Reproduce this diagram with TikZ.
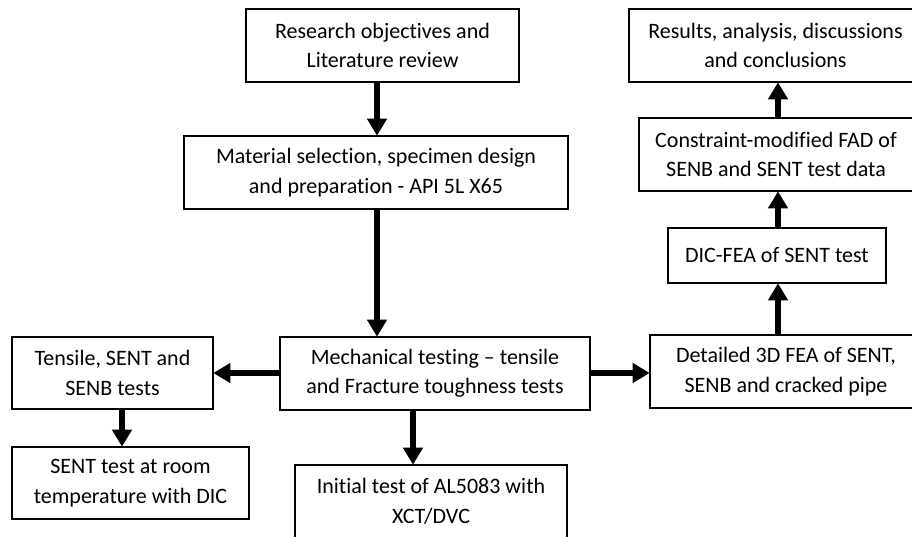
\documentclass[tikz,border=0pt]{standalone}
\usepackage{fontspec}
\setmainfont{Carlito}[Ligatures=NoCommon]
\usetikzlibrary{arrows.meta}
\begin{document}
\begin{tikzpicture}[x=1pt,y=-1pt,
  box/.style={draw=black, line width=1.6pt, rectangle, align=center, inner sep=0pt,
    font=\fontsize{22}{29.5}\selectfont},
  flow/.style={line width=5.5pt, -{Triangle[length=17pt,width=19pt]}, shorten >=-0.5pt}]
\clip (0,0) rectangle (912,537);
\fill[white] (0,0) rectangle (912,537);
\node[box, minimum width=273pt, minimum height=73pt] (res) at (382.5,45.5) {Research objectives and\\Literature review};
\node[box, minimum width=384pt, minimum height=73pt] (mat) at (376,172.5) {Material selection, specimen design\\and preparation - API 5L X65};
\node[box, minimum width=310pt, minimum height=73pt] (mech) at (435,373.5) {Mechanical testing -- tensile\\and Fracture toughness tests};
\node[box, minimum width=201pt, minimum height=72pt] (ten) at (112.5,373) {Tensile, SENT and\\SENB tests};
\node[box, minimum width=237pt, minimum height=72pt] (room) at (130.5,483) {SENT test at room\\temperature with DIC};
\node[box, minimum width=272pt, minimum height=73pt] (init) at (431,501.5) {Initial test of AL5083 with\\XCT/DVC};
\node[box, minimum width=272pt, minimum height=73pt] (fea) at (786,371.5) {Detailed 3D FEA of SENT,\\SENB and cracked pipe};
\node[box, minimum width=218pt, minimum height=55pt] (dic) at (777,255.5) {DIC-FEA of SENT test};
\node[box, minimum width=274pt, minimum height=73pt] (fad) at (776,154.5) {Constraint-modified FAD of\\SENB and SENT test data};
\node[box, minimum width=293pt, minimum height=73pt] (resu) at (775.5,45.5) {Results, analysis, discussions\\and conclusions};
\coordinate (c1) at (377,0);
\coordinate (c2) at (413,0);
\coordinate (c3) at (122,0);
\coordinate (c4) at (778,0);
\coordinate (c5) at (0,373);
\draw[flow] (res.south -| c1) -- (mat.north -| c1);
\draw[flow] (mat.south -| c1) -- (mech.north -| c1);
\draw[flow] (mech.west |- c5) -- (ten.east |- c5);
\draw[flow] (ten.south -| c3) -- (room.north -| c3);
\draw[flow] (mech.south -| c2) -- (init.north -| c2);
\draw[flow] (mech.east |- c5) -- (fea.west |- c5);
\draw[flow] (fea.north -| c4) -- (dic.south -| c4);
\draw[flow] (dic.north -| c4) -- (fad.south -| c4);
\draw[flow] (fad.north -| c4) -- (resu.south -| c4);
\end{tikzpicture}
\end{document}
